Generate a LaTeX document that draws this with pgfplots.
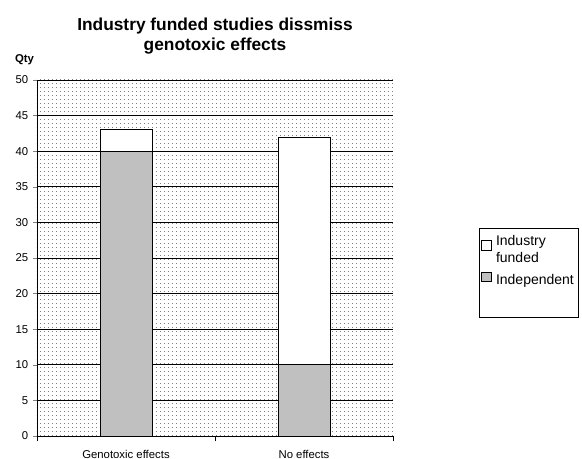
\documentclass[border=0pt]{standalone}
\usepackage{fontspec}
\setmainfont{Liberation Sans}
\usepackage{pgfplots}
\pgfplotsset{compat=1.18}
\usetikzlibrary{patterns.meta}
\definecolor{indep}{RGB}{192,192,192}

\pgfdeclarepattern{
  name=sparsedots, type=uncolored,
  bottom left={\pgfpoint{-1.5pt}{-1.5pt}},
  top right={\pgfpoint{1.5pt}{1.5pt}},
  tile size={\pgfpoint{3pt}{3pt}},
  code={\pgfpathrectangle{\pgfpoint{-0.3pt}{-0.3pt}}{\pgfpoint{0.6pt}{0.6pt}}\pgfusepath{fill}}
}

\begin{document}
\begin{tikzpicture}[x=0.75pt,y=0.75pt]
% canvas, in px from axis origin (37,436)
\useasboundingbox (-37,-23) rectangle (545,436);
\begin{axis}[
  at={(0,0)}, anchor=origin,
  scale only axis,
  width=267pt, height=267pt,
  ybar stacked,
  bar width=0.292,
  xmin=0, xmax=2,
  ymin=0, ymax=50,
  ytick={0,5,...,50},
  xtick={0.5,1.5},
  xticklabels={Genotoxic effects, No effects},
  major x tick style={draw=none},
  minor xtick={0,1,2},
  minor x tick style={black},
  minor tick length=4pt,
  tick align=outside,
  major tick length=3pt,
  axis x line*=bottom,
  axis y line*=left,
  axis line style={black, -},
  ymajorgrids,
  grid style={black, line width=0.5pt},
  axis background/.style={pattern={sparsedots}, pattern color=black!50},
  tick label style={font=\fontsize{8.5}{10}\selectfont},
  /pgf/number format/assume math mode=true,
  xticklabel style={yshift=-4pt},
  every axis plot/.append style={draw=black, line width=0.6pt},
  legend style={at={(rel axis cs:1.2416,0.583)}, anchor=north west,
    draw=black, line width=0.5pt, font=\fontsize{10.5}{12.5}\selectfont,
    inner xsep=1.5pt, inner ysep=3pt, row sep=3.5pt, column sep=1.5pt,
    cells={align=left}},
  legend cell align=left,
  clip=false,
]
\addplot[fill=indep, forget plot] coordinates {(0.5,40) (1.5,10)};
\addplot[fill=white, forget plot] coordinates {(0.5,3) (1.5,32)};
\addlegendimage{legend image code/.code={\draw[draw=black,fill=white,line width=0.5pt] (0pt,0pt) rectangle (7pt,7pt);}}
\addlegendentry{Industry\\funded}
\addlegendimage{legend image code/.code={\draw[draw=black,fill=indep,line width=0.5pt] (0pt,-0.5pt) rectangle (7pt,6.5pt);}}
\addlegendentry{Independent}
\addlegendimage{empty legend}
\addlegendentry{\rule{0pt}{9pt}}
\node[font=\bfseries\fontsize{8.5}{10}\selectfont, anchor=base west] at (rel axis cs:-0.075,1.05) {Qty};
\node[font=\bfseries\fontsize{13}{15}\selectfont, align=center, anchor=south] at (rel axis cs:0.5,1.06) {Industry funded studies dissmiss\\genotoxic effects};
\end{axis}
\end{tikzpicture}
\end{document}
